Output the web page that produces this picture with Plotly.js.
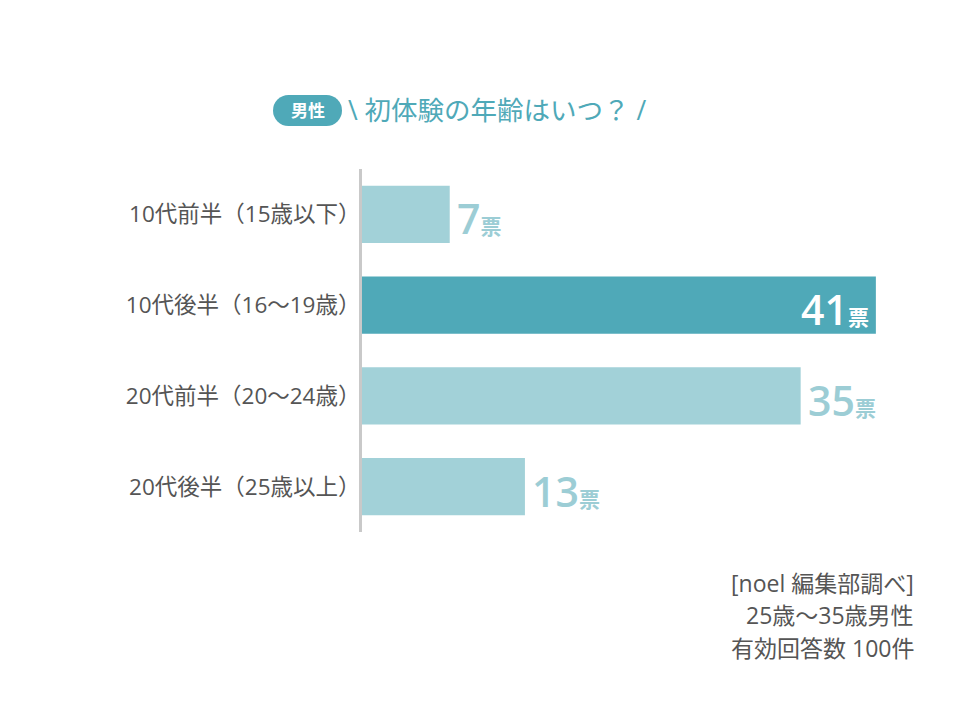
<!DOCTYPE html>
<html><head><meta charset="utf-8">
<script src="https://cdn.plot.ly/plotly-3.0.1.min.js"></script>
<style>html,body{margin:0;padding:0;background:#fff}</style>
</head><body><div id="chart" style="width:960px;height:720px"></div>
<script>
const categories = ["10代前半（15歳以下）","10代後半（16〜19歳）","20代前半（20〜24歳）","20代後半（25歳以上）"];
const votes = [7, 41, 35, 13];
const highlight = [false, true, false, false];
const unit = "票";
const badge = "男性";
const titleText = "\\ 初体験の年齢はいつ？ /";
const footnotes = ["[noel 編集部調べ]", "25歳〜35歳男性", "有効回答数 100件"];

const DARK = "#4fa9b8", LIGHT = "#a2d1d8", LIGHTTXT = "#9ccdd5";
const FONT = "'Open Sans','Noto Sans CJK JP',sans-serif";

const W = 960, H = 720, L = 362, R = 34, T = 169, B = 188;
const pw = W - L - R, ph = H - T - B;
const px = x => (x - L) / pw;
const py = y => (H - B - y) / ph;

const trace = {
  type: "bar", orientation: "h",
  y: categories, x: votes,
  marker: { color: highlight.map(h => h ? DARK : LIGHT), line: { width: 0 } },
  hoverinfo: "skip"
};

const annotations = [
  { xref: "paper", yref: "paper", x: px(307.5), y: py(110.5), xanchor: "center", yanchor: "middle",
    text: "<b>" + badge + "</b>", showarrow: false, font: { family: FONT, size: 17, color: "#ffffff" } },
  { xref: "paper", yref: "paper", x: px(346), y: py(110), xanchor: "left", yanchor: "middle",
    text: titleText, showarrow: false, font: { family: FONT, size: 26.5, color: DARK } }
];
votes.forEach((v, i) => annotations.push({
  xref: "x", yref: "y", x: v, y: categories[i],
  xanchor: highlight[i] ? "right" : "left", yanchor: "middle",
  xshift: highlight[i] ? -5 : 5, yshift: -4,
  text: v + "<span style='font-size:21px'>" + unit + "</span>",
  showarrow: false,
  font: { family: FONT, size: 41, weight: 600, color: highlight[i] ? "#ffffff" : LIGHTTXT }
}));
const footY = [583, 615, 648];
footnotes.forEach((t, i) => annotations.push({
  xref: "paper", yref: "paper", x: px(916), y: py(footY[i]), xanchor: "right", yanchor: "middle",
  text: t, showarrow: false, font: { family: FONT, size: 23, color: "#555555" }
}));

const pill = (type, x0, x1) => ({
  type: type, xref: "paper", yref: "paper", xsizemode: "pixel", ysizemode: "pixel",
  xanchor: px(273), yanchor: py(126), x0: x0, x1: x1, y0: 0, y1: 31,
  fillcolor: DARK, line: { width: 0 }, layer: "above"
});

const layout = {
  width: W, height: H,
  margin: { l: L, r: R, t: T, b: B },
  paper_bgcolor: "#ffffff", plot_bgcolor: "#ffffff",
  showlegend: false,
  bargap: 0.37,
  xaxis: { range: [0, 45], visible: false, fixedrange: true },
  yaxis: {
    autorange: false, range: [3.5, -0.5],
    showline: true, linecolor: "#c9c9c9", linewidth: 3,
    showgrid: false, zeroline: false, ticks: "", ticklabelstandoff: -6,
    tickfont: { family: FONT, size: 22.5, color: "#555555" }
  },
  annotations: annotations,
  shapes: [pill("rect", 15, 54), pill("circle", 0, 31), pill("circle", 38, 69)]
};

Plotly.newPlot("chart", [trace], layout, { staticPlot: true, displayModeBar: false });
</script>
</body></html>
